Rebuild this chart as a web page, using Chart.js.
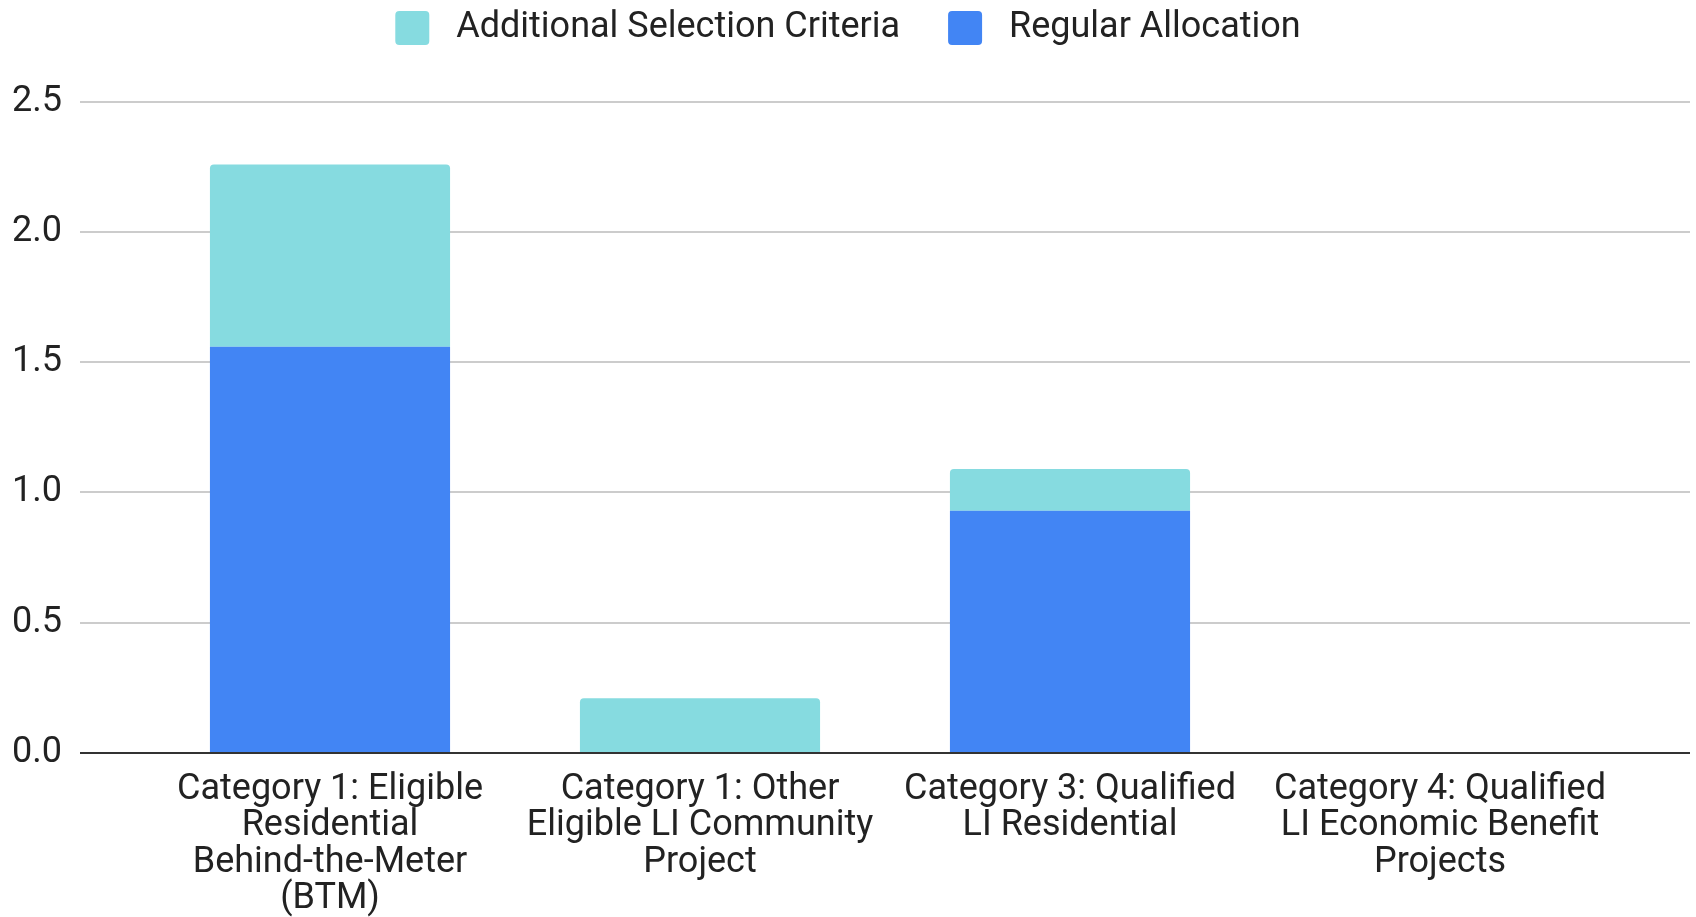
<!DOCTYPE html>
<html>
<head>
<meta charset="utf-8">
<script src="https://cdn.jsdelivr.net/npm/chart.js@4.4.1/dist/chart.umd.min.js"></script>
<style>
  html, body { margin: 0; padding: 0; background: #fff; overflow: hidden; }
  #wrap { position: absolute; left: 0; top: -38px; width: 1696px; height: 955px; }
</style>
</head>
<body>
<div id="wrap"><canvas id="c"></canvas></div>
<script>
const categories = [
  ["Category 1: Eligible", "Residential", "Behind-the-Meter", "(BTM)"],
  ["Category 1: Other", "Eligible LI Community", "Project"],
  ["Category 3: Qualified", "LI Residential"],
  ["Category 4: Qualified", "LI Economic Benefit", "Projects"]
];
const regularAllocation = [1.56, 0, 0.93, 0];
const additionalSelection = [0.70, 0.21, 0.16, 0];
const yTicks = [0, 0.5, 1.0, 1.5, 2.0, 2.5];

const FONT = "Roboto, 'Noto Sans', sans-serif";

const gridPlugin = {
  id: 'fullGrid',
  beforeLayout(chart) {
    const lg = chart.legend;
    if (lg && !lg._extraPatched) {
      const f = lg.fit;
      lg.fit = function () { f.call(this); this.height += 46; };
      lg._extraPatched = true;
    }
  },
  beforeDatasetsDraw(chart) {
    const y = chart.scales.y, ctx = chart.ctx;
    ctx.save();
    ctx.strokeStyle = '#cccccc';
    ctx.lineWidth = 2;
    yTicks.forEach(v => {
      if (v === 0) return;
      const py = Math.round(y.getPixelForValue(v));
      ctx.beginPath(); ctx.moveTo(80, py); ctx.lineTo(1690, py); ctx.stroke();
    });
    ctx.restore();
  },
  afterDatasetsDraw(chart) {
    const y = chart.scales.y, ctx = chart.ctx;
    const py = Math.round(y.getPixelForValue(0));
    ctx.save();
    ctx.strokeStyle = '#333333';
    ctx.lineWidth = 2;
    ctx.beginPath(); ctx.moveTo(80, py); ctx.lineTo(1690, py); ctx.stroke();
    ctx.restore();
  }
};

new Chart(document.getElementById('c'), {
  type: 'bar',
  data: {
    labels: categories,
    datasets: [
      {
        label: 'Regular Allocation',
        data: regularAllocation,
        backgroundColor: '#4285f4',
        borderWidth: 0,
        borderRadius: 0
      },
      {
        label: 'Additional Selection Criteria',
        data: additionalSelection,
        backgroundColor: '#86dbe0',
        borderWidth: 0,
        borderRadius: {topLeft: 4, topRight: 4, bottomLeft: 0, bottomRight: 0},
        borderSkipped: 'start'
      }
    ]
  },
  options: {
    responsive: true,
    maintainAspectRatio: false,
    animation: false,
    layout: { padding: { left: 0, right: 0, top: 0, bottom: 0 } },
    datasets: { bar: { barPercentage: 1, categoryPercentage: 0.649 } },
    plugins: {
      tooltip: { enabled: false },
      legend: {
        position: 'top',
        reverse: true,
        labels: {
          boxWidth: 34,
          boxHeight: 34,
          padding: 48,
          useBorderRadius: true,
          borderRadius: 4,
          color: '#222222',
          font: { family: FONT, size: 36 },
          generateLabels(chart) {
            const items = Chart.defaults.plugins.legend.labels.generateLabels(chart);
            items.forEach(it => { it.text = ' ' + it.text; });
            return items;
          }
        }
      }
    },
    scales: {
      x: {
        stacked: true,
        grid: { display: false, drawTicks: false },
        border: { display: false },
        ticks: {
          autoSkip: false,
          maxRotation: 0,
          minRotation: 0,
          padding: 19,
          color: '#222222',
          font: { family: FONT, size: 36, lineHeight: 1.01 }
        },
        afterFit(s) { s.height = 164.2; }
      },
      y: {
        stacked: true,
        min: 0,
        max: 2.5,
        grid: { display: false, drawTicks: false },
        border: { display: false },
        afterBuildTicks(s) { s.ticks = yTicks.map(v => ({ value: v })); },
        ticks: {
          padding: 83,
          color: '#222222',
          font: { family: FONT, size: 36 },
          callback: v => Number(v).toFixed(1)
        },
        afterFit(s) { s.width = 145; }
      },
      yRight: {
        position: 'right',
        display: true,
        grid: { display: false, drawTicks: false },
        border: { display: false },
        ticks: { display: false },
        afterFit(s) { s.width = 71; }
      }
    }
  },
  plugins: [gridPlugin]
});
</script>
</body>
</html>
